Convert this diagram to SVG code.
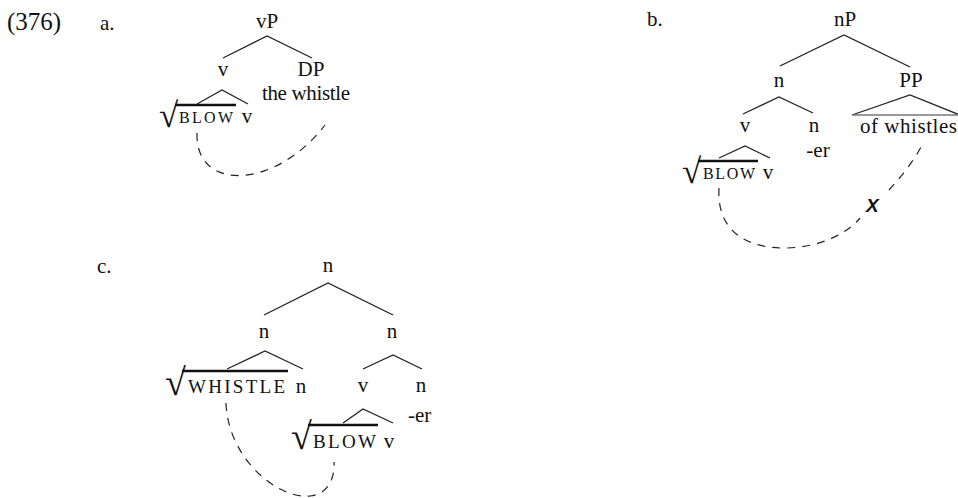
<svg xmlns="http://www.w3.org/2000/svg" width="958" height="498" viewBox="0 0 958 498">
<style>
text{font-family:"Liberation Serif","Times New Roman",serif;fill:#111;}
.t{font-size:21px;text-anchor:middle;}
.l{font-size:21px;}
.sc{font-size:16px;}
.sc2{font-size:19px;}
.rad{font-size:35px;}
.rad2{font-size:38px;}
.br{stroke:#222;stroke-width:1.3;fill:none;}
.ov{stroke:#111;stroke-width:2.5;}
.dash{stroke:#222;stroke-width:1.2;fill:none;stroke-dasharray:8 7;}
.x{font-family:"Liberation Sans",Arial,sans-serif;font-weight:bold;font-style:italic;font-size:19px;}
</style>
<text x="7" y="30" style="font-size:25px">(376)</text>

<g id="treeA">
<text class="l" x="100" y="30">a.</text>
<g id="a-vP"><text class="t" x="267" y="28">vP</text></g>
<g id="a-v"><text class="t" x="223" y="76">v</text></g>
<g id="a-DP"><text class="t" x="311" y="76">DP</text><text class="l" x="262" y="100" textLength="88">the whistle</text></g>
<g id="a-root"><text class="rad" x="159" y="127">√</text><line class="ov" x1="175" y1="105" x2="236" y2="105"/><text class="sc" x="179" y="123" textLength="54">BLOW</text></g>
<g id="a-v2"><text class="t" x="247" y="123">v</text></g>
</g>

<g id="treeB">
<text class="l" x="647" y="26">b.</text>
<g id="b-nP"><text class="t" x="845" y="26">nP</text></g>
<g id="b-n"><text class="t" x="779" y="87">n</text></g>
<g id="b-PP"><text class="t" x="911" y="87">PP</text><text class="l" x="860" y="133" textLength="97">of whistles</text></g>
<g id="b-v"><text class="t" x="745" y="132">v</text></g>
<g id="b-n2"><text class="t" x="814" y="132">n</text><text class="t" x="818" y="157">-er</text></g>
<g id="b-root"><text class="rad" x="682" y="183">√</text><line class="ov" x1="698" y1="161" x2="758" y2="161"/><text class="sc" x="703" y="179" textLength="52">BLOW</text></g>
<g id="b-v2"><text class="t" x="768" y="179">v</text></g>
<text class="x" x="866" y="212">X</text>
</g>

<g id="treeC">
<text class="l" x="97" y="273">c.</text>
<g id="c-n"><text class="t" x="328" y="272">n</text></g>
<g id="c-nL"><text class="t" x="264" y="338">n</text></g>
<g id="c-nR"><text class="t" x="392" y="338">n</text></g>
<g id="c-root1"><text class="rad2" x="165" y="395">√</text><line class="ov" x1="182" y1="371" x2="288" y2="371"/><text class="sc2" x="188" y="393" textLength="97">WHISTLE</text></g>
<g id="c-n3"><text class="t" x="301" y="393">n</text></g>
<g id="c-v"><text class="t" x="363" y="392">v</text></g>
<g id="c-n4"><text class="t" x="421" y="392">n</text><text class="l" x="408" y="422">-er</text></g>
<g id="c-root2"><text class="rad2" x="291" y="449">√</text><line class="ov" x1="308" y1="425" x2="378" y2="425"/><text class="sc2" x="313" y="448" textLength="63">BLOW</text></g>
<g id="c-v2"><text class="t" x="389" y="448">v</text></g>
</g>

<g id="connectors">
<path class="br" d="M223,58 L267,36 L312,58"/>
<path class="br" d="M197,104 L222,90 L248,104"/>
<path class="br" d="M780,66 L844,35 L910,67"/>
<path class="br" d="M743,114 L779,97 L813,113"/>
<path class="br" d="M852,115 L910,95 L960,115"/>
<line x1="852" y1="115" x2="960" y2="115" stroke="#777" stroke-width="1.3"/>
<path class="br" d="M719,158 L745,146 L770,158"/>
<path class="br" d="M264,315 L328,283 L393,315"/>
<path class="br" d="M227,369 L265,351 L303,369"/>
<path class="br" d="M363,369 L393,355 L422,369"/>
<path class="br" d="M343,423 L363,409 L393,423"/>
<path class="dash" d="M197,133 C195,192 275,190 325,125"/>
<path class="dash" d="M719,188 C716,240 760,252 800,247 C830,243 850,230 860,218"/>
<path class="dash" d="M889,190 C900,178 915,160 923,143"/>
<path class="dash" d="M226,403 C228,460 280,500 310,496 C330,494 335,475 334,462"/>
</g>
</svg>
